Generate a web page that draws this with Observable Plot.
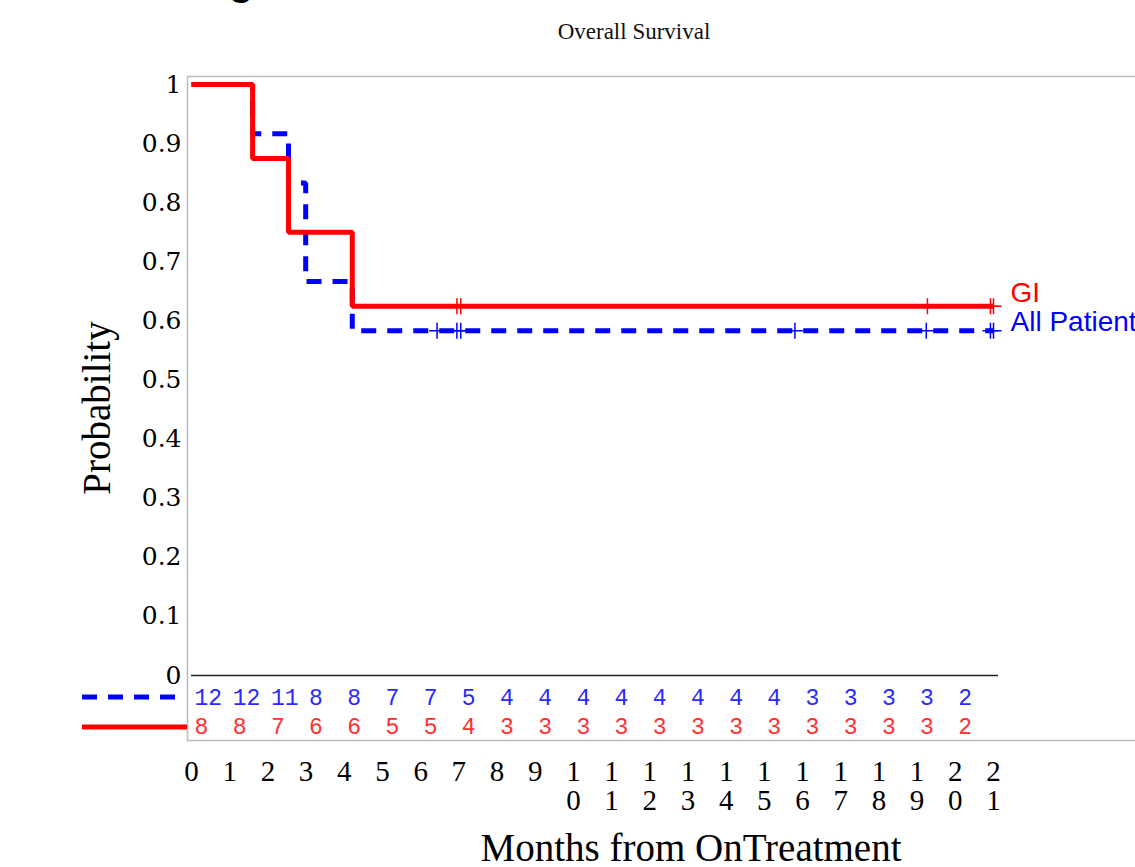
<!DOCTYPE html>
<html><head><meta charset="utf-8">
<script src="https://cdn.jsdelivr.net/npm/d3@7"></script>
<script src="https://cdn.jsdelivr.net/npm/@observablehq/plot@0.6"></script>
<style>
html,body{margin:0;padding:0;background:#fff;overflow:hidden;width:1135px;height:867px;}
#wrap{position:relative;width:1135px;height:867px;overflow:hidden;}
#chart{position:absolute;left:0;top:0;width:1160px;}
#chart svg{max-width:none !important;}
.abs{position:absolute;white-space:nowrap;line-height:1;}
</style></head><body>
<div id="wrap">
  <div id="chart"></div>
  <div class="abs" id="cut" style="left:229px;top:-41px;font:bold 40px 'Liberation Sans';color:#000;">g</div>
  <div class="abs" id="title" style="left:634px;top:32px;transform:translate(-50%,-50%);font:23px 'Liberation Serif';color:#111;">Overall Survival</div>
  <div class="abs" id="xlab" style="left:691px;top:847px;transform:translate(-50%,-50%);font:39px 'Liberation Serif';color:#000;">Months from OnTreatment</div>
  <div class="abs" id="ylab" style="left:96px;top:408px;transform:translate(-50%,-50%) rotate(-90deg);font:39px 'Liberation Serif';color:#000;">Probability</div>
  <svg class="abs" style="left:0;top:0;" width="200" height="867">
    <line id="legAll" x1="82" x2="176" y1="697" y2="697" stroke="#0000ff" stroke-width="5" stroke-dasharray="15,11"/>
    <line id="legGI" x1="82" x2="187" y1="727" y2="727" stroke="#ff0000" stroke-width="5"/>
  </svg>
</div>
<script>
// ---- data ----
const xTicks = [0,1,2,3,4,5,6,7,8,9,10,11,12,13,14,15,16,17,18,19,20,21];
const yTicks = [0,0.1,0.2,0.3,0.4,0.5,0.6,0.7,0.8,0.9,1];

const allTime = [0, 1.6, 2.54, 2.99, 4.21, 21];
const allSurv = [1, 0.9167, 0.8333, 0.6667, 0.5833, 0.5833];
const giTime  = [0, 1.6, 2.54, 4.21, 21];
const giSurv  = [1, 0.875, 0.75, 0.625, 0.625];

const allCensor = [6.43, 6.95, 7.05, 15.8, 19.24, 20.92, 21];
const giCensor  = [6.95, 7.05, 19.27, 20.92, 21];

const riskMonths = [0,1,2,3,4,5,6,7,8,9,10,11,12,13,14,15,16,17,18,19,20];
const allRisk = [12,12,11,8,8,7,7,5,4,4,4,4,4,4,4,4,3,3,3,3,2];
const giRisk  = [8,8,7,6,6,5,5,4,3,3,3,3,3,3,3,3,3,3,3,3,2];

const seriesNames = ["GI", "All Patients"];
const colors = {GI: "#ff0000", "All Patients": "#0000ff"};

// ---- build tables ----
const curve = (ts, ss) => ts.map((t, i) => ({t, s: ss[i]}));
const allCurve = curve(allTime, allSurv);
const giCurve = curve(giTime, giSurv);
const survAt = (ts, ss, x) => { let v = ss[0]; ts.forEach((t, i) => { if (t <= x) v = ss[i]; }); return v; };
const allMarks = allCensor.map(t => ({t, s: survAt(allTime, allSurv, t)}));
const giMarks = giCensor.map(t => ({t, s: survAt(giTime, giSurv, t)}));
const allRiskT = riskMonths.map((m, i) => ({m, n: allRisk[i]}));
const giRiskT = riskMonths.map((m, i) => ({m, n: giRisk[i]}));
const endLabels = [
  {t: giTime[giTime.length-1], s: giSurv[giSurv.length-1], name: seriesNames[0]},
  {t: allTime[allTime.length-1], s: allSurv[allSurv.length-1], name: seriesNames[1]}
];

const plusLine = {
  draw(ctx, size) {
    const r = Math.sqrt(size / Math.PI);
    ctx.moveTo(-r, 0); ctx.lineTo(r, 0);
    ctx.moveTo(0, -r); ctx.lineTo(0, r);
  }
};

const chart = Plot.plot({
  width: 1160, height: 867,
  marginTop: 76, marginBottom: 127, marginLeft: 187, marginRight: 0,
  x: {domain: [0, 21], range: [191, 993], axis: null},
  y: {domain: [0, 1], range: [675, 84], axis: null},
  style: {background: "transparent", overflow: "visible", maxWidth: "none"},
  marks: [
    Plot.frame({stroke: "#b9bcbf", strokeWidth: 1.5}),
    Plot.text(yTicks, {y: d => d, text: d => d3.format("~g")(d), frameAnchor: "left", textAnchor: "end", dx: -6,
      fontSize: 25, fontFamily: "DejaVu Serif", fill: "#000"}),
    Plot.text(xTicks, {x: d => d, text: d => String(d).split("").join("\n"), frameAnchor: "bottom", lineAnchor: "top",
      dy: 20, lineHeight: 1.0, fontSize: 29, fontFamily: "Liberation Serif", fill: "#000"}),
    Plot.ruleY([0], {x1: 0, x2: 21, insetRight: -5, stroke: "#222", strokeWidth: 1.5}),
    Plot.line(allCurve, {x: "t", y: "s", curve: "step-after", stroke: colors["All Patients"], strokeWidth: 5,
      strokeDasharray: "15,11", strokeLinecap: "butt", strokeLinejoin: "miter"}),
    Plot.dot(allMarks, {x: "t", y: "s", symbol: plusLine, r: 8, stroke: colors["All Patients"], strokeWidth: 1.5, fill: "none"}),
    Plot.line(giCurve, {x: "t", y: "s", curve: "step-after", stroke: colors.GI, strokeWidth: 5,
      strokeLinecap: "butt", strokeLinejoin: "miter"}),
    Plot.dot(giMarks, {x: "t", y: "s", symbol: plusLine, r: 8, stroke: colors.GI, strokeWidth: 1.5, fill: "none"}),
    Plot.text(endLabels.slice(0, 1), {x: "t", y: "s", text: "name", textAnchor: "start", lineAnchor: "bottom",
      dx: 17, dy: -4, fill: d => colors[d.name], fontSize: 28, fontFamily: "Liberation Sans"}),
    Plot.text(endLabels.slice(1), {x: "t", y: "s", text: "name", textAnchor: "start", lineAnchor: "bottom",
      dx: 17, dy: 0, fill: d => colors[d.name], fontSize: 28, fontFamily: "Liberation Sans"}),
    Plot.text(allRiskT, {x: "m", text: "n", frameAnchor: "bottom", textAnchor: "start", dx: 3, dy: -36,
      fill: "#2a2aff", fontSize: 23, fontFamily: "Liberation Mono"}),
    Plot.text(giRiskT, {x: "m", text: "n", frameAnchor: "bottom", textAnchor: "start", dx: 3, dy: -7,
      fill: "#ff3030", fontSize: 23, fontFamily: "Liberation Mono"})
  ]
});
chart.style.maxWidth = "none";
document.getElementById("chart").appendChild(chart);
</script>
</body></html>
